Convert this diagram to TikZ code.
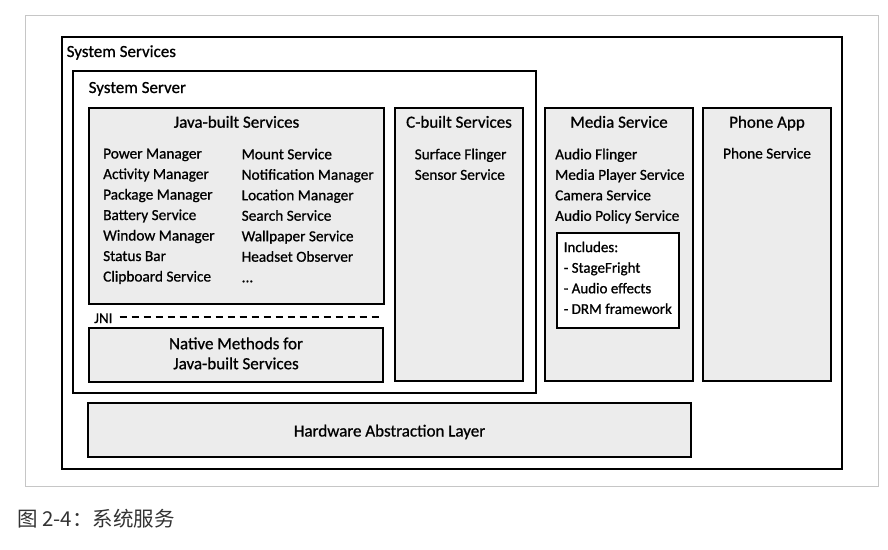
\documentclass[tikz,border=0pt]{standalone}
\usepackage{fontspec}
\setmainfont{Carlito}[FakeBold=0.8]
\newfontfamily\cjkfont{Noto Sans CJK SC}
\usetikzlibrary{positioning, fit}

\begin{document}
\begin{tikzpicture}[
    x=1pt, y=-1pt,
    plainbox/.style = {draw=black, line width=1.6pt, inner sep=0pt},
    greybox/.style  = {plainbox, fill=gray!15},
    whitebox/.style = {plainbox, fill=white},
    pagebox/.style  = {draw=gray!45, line width=0.8pt, inner sep=0pt},
    boxtitle/.style = {font=\fontsize{17}{20}\selectfont, inner sep=0pt, anchor=base},
    boxlabel/.style = {font=\fontsize{17}{20}\selectfont, inner sep=0pt, anchor=base west},
    items/.style    = {font=\fontsize{15.3}{20.5}\selectfont, align=left,
                       inner sep=0pt, anchor=north west},
    jniline/.style  = {dash pattern=on 7pt off 5pt, line width=1.3pt}
]
\useasboundingbox (0,0) rectangle (888,549);

% ========= page frame and outer containers =========
\node[pagebox,  fit={(25,15) (878,486)}]   (page)     {};
\node[plainbox, fit={(62,37) (842,469)}]   (services) {};
\node[boxlabel] (serviceslbl) at (66.5,57) {System Services};
\node[plainbox, fit={(73,71) (536,393)}]   (server)   {};
\node[boxlabel] (serverlbl) at (88.5,93) {System Server};

% ========= Java-built services =========
\node[greybox, fit={(89,108) (384,304)}] (java) {};
\node[boxtitle] (javatitle) at ([yshift=-20.5pt]java.north) {Java-built Services};
\node[items] (javaleft) at (103,148.5)
    {Power Manager\\Activity Manager\\Package Manager\\Battery Service\\Window Manager\\Status Bar\\Clipboard Service};
\node[items] (javaright) at (241.5,148.5)
    {Mount Service\\Notification Manager\\Location Manager\\Search Service\\Wallpaper Service\\Headset Observer\\...};

% JNI boundary
\node[items, font=\fontsize{15}{18}\selectfont, anchor=base west] (jni) at (94,323) {JNI};
\coordinate (jniend) at (383,317);
\draw[jniline] (jni.east |- jniend) ++(7,0) -- (jniend);

\node[greybox, fit={(89,328) (383,382)}] (native) {};
\node[align=center, inner sep=0pt, font=\fontsize{17}{20}\selectfont, anchor=base]
    (nativetext) at ([yshift=-42pt]native.north) {Native Methods for\\Java-built Services};

% ========= C-built services =========
\node[greybox, fit={(395,108) (523,381)}] (cbuilt) {};
\node[boxtitle] (ctitle) at ([yshift=-20.5pt]cbuilt.north) {C-built Services};
\node[items] (citems) at (414.5,148.5) {Surface Flinger\\Sensor Service};

% ========= Media service =========
\node[greybox, fit={(545,108) (693,381)}] (media) {};
\node[boxtitle] (mediatitle) at ([yshift=-20.5pt]media.north) {Media Service};
\node[items] (mediaitems) at (555,148.5)
    {Audio Flinger\\Media Player Service\\Camera Service\\Audio Policy Service};
\node[whitebox, fit={(557,233) (679,328)}] (includes) {};
\node[items, font=\fontsize{15}{20.6}\selectfont] (includestext) at (563.5,241.5)
    {Includes:\\- StageFright\\- Audio effects\\- DRM framework};

% ========= Phone app =========
\node[greybox, fit={(703,108) (831,381)}] (phone) {};
\node[boxtitle] (phonetitle) at ([yshift=-20.5pt]phone.north) {Phone App};
\node[items, anchor=north] (phoneitems) at ([yshift=-40.5pt]phone.north) {Phone Service};

% ========= HAL =========
\node[greybox, fit={(88,403) (691,457)}] (hal) {};
\node[boxtitle] (haltext) at ([yshift=-6.5pt]hal.center) {Hardware Abstraction Layer};

% ========= caption =========
\node[anchor=base west, inner sep=0pt, text=black!80, font=\cjkfont\fontsize{20.5}{24}\selectfont]
    (caption) at (17,526.5) {图 2-4：系统服务};

\end{tikzpicture}
\end{document}
